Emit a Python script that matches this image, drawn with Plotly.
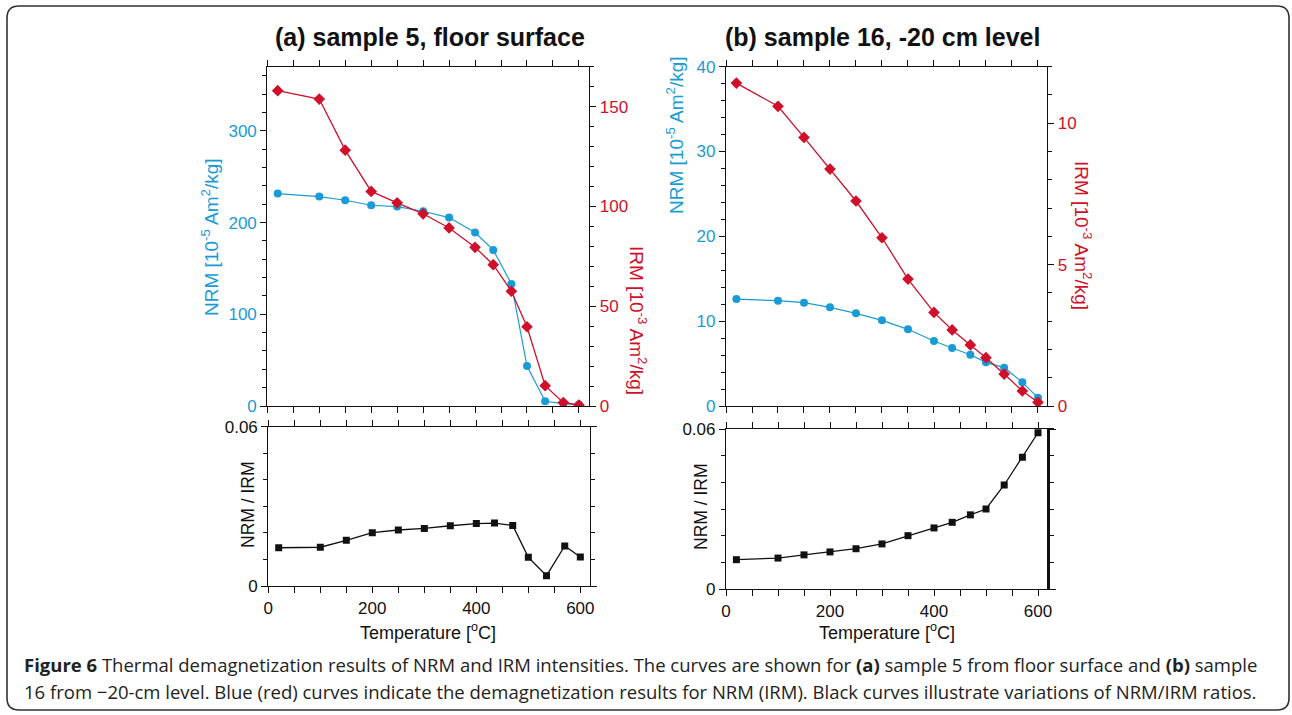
import plotly.graph_objects as go

W, H = 1292, 715

temps = [20, 100, 150, 200, 250, 300, 350, 400, 435, 470, 500, 535, 570, 600]

nrm_a = [231.6, 228.4, 224.4, 218.9, 217.5, 212.4, 205.5, 189.1, 170.2, 133.1, 43.6, 5.1, 2.5, 1.5]
irm_a = [158.0, 153.8, 128.2, 107.5, 101.8, 96.3, 89.2, 79.5, 70.8, 57.5, 39.7, 10.2, 1.7, 0.5]
ratio_a = [0.0144, 0.0146, 0.0172, 0.0201, 0.0211, 0.0217, 0.0227, 0.0235, 0.0237, 0.0228, 0.0108, 0.0039, 0.0151, 0.0109]

nrm_b = [12.61, 12.42, 12.18, 11.63, 10.92, 10.10, 9.04, 7.66, 6.84, 6.05, 5.15, 4.52, 2.79, 0.98]
irm_b = [11.42, 10.60, 9.50, 8.38, 7.25, 5.95, 4.49, 3.31, 2.69, 2.16, 1.71, 1.13, 0.53, 0.13]
ratio_b = [0.0110, 0.0116, 0.0128, 0.0139, 0.0151, 0.0169, 0.0200, 0.0229, 0.0250, 0.0278, 0.0300, 0.0390, 0.0494, 0.0586]

titles = ["(a) sample 5, floor surface", "(b) sample 16, -20 cm level"]
x_ticks = [0, 200, 400, 600]
ratio_ticks = [0, 0.06]

BLUE = "#1a9bd6"
RED = "#d0102a"
BLACK = "#111111"
FONT = "Liberation Sans, Arial, sans-serif"


def px(x):
    return x / W


def py(y):
    return 1 - y / H


fig = go.Figure()

fig.add_trace(go.Scatter(x=temps, y=nrm_a, xaxis="x", yaxis="y", mode="lines+markers",
                         line=dict(color=BLUE, width=1.2),
                         marker=dict(symbol="circle", size=8, color=BLUE)))
fig.add_trace(go.Scatter(x=temps, y=irm_a, xaxis="x", yaxis="y2", mode="lines+markers",
                         line=dict(color=RED, width=1.3),
                         marker=dict(symbol="diamond", size=9, color=RED)))
fig.add_trace(go.Scatter(x=temps, y=ratio_a, xaxis="x2", yaxis="y3", mode="lines+markers",
                         line=dict(color=BLACK, width=1.3),
                         marker=dict(symbol="square", size=7, color=BLACK)))
fig.add_trace(go.Scatter(x=temps, y=nrm_b, xaxis="x3", yaxis="y4", mode="lines+markers",
                         line=dict(color=BLUE, width=1.2),
                         marker=dict(symbol="circle", size=8, color=BLUE)))
fig.add_trace(go.Scatter(x=temps, y=irm_b, xaxis="x3", yaxis="y5", mode="lines+markers",
                         line=dict(color=RED, width=1.3),
                         marker=dict(symbol="diamond", size=9, color=RED)))
fig.add_trace(go.Scatter(x=temps, y=ratio_b, xaxis="x4", yaxis="y6", mode="lines+markers",
                         line=dict(color=BLACK, width=1.3),
                         marker=dict(symbol="square", size=7, color=BLACK)))
# invisible carriers so the right-hand frame axes of the ratio plots are drawn
fig.add_trace(go.Scatter(x=temps, y=ratio_a, xaxis="x2", yaxis="y7", mode="markers",
                         marker=dict(opacity=0), hoverinfo="skip"))
fig.add_trace(go.Scatter(x=temps, y=ratio_b, xaxis="x4", yaxis="y8", mode="markers",
                         marker=dict(opacity=0), hoverinfo="skip"))

tickfont = dict(family=FONT, size=17, color=BLACK)


def xax(domain, rng, labels, anchor):
    return dict(domain=domain, range=rng, anchor=anchor, showgrid=False, zeroline=False,
                automargin=False,
                showline=True, linecolor=BLACK, linewidth=1.2, mirror="allticks",
                ticks="outside", ticklen=6, tickwidth=1.2, tickcolor=BLACK,
                tickvals=x_ticks, showticklabels=labels, tickfont=tickfont,
                minor=dict(dtick=50, tick0=0, ticks="outside", ticklen=4, tickwidth=1, tickcolor=BLACK))


def yax(domain, rng, dtick, mdtick, color, anchor, side="left", overlaying=None, mirror=False,
        tickvals=None, labels=True, linewidth=1.2, position=None):
    d = dict(domain=domain, range=rng, anchor=anchor, side=side, showgrid=False, zeroline=False,
             automargin=False, showticklabels=labels,
             showline=True, linecolor=BLACK, linewidth=linewidth, mirror=mirror,
             ticks="outside", ticklen=6, tickwidth=1.2, tickcolor=BLACK,
             tickfont=dict(family=FONT, size=17, color=color),
             minor=dict(dtick=mdtick, tick0=0, ticks="outside", ticklen=4, tickwidth=1, tickcolor=BLACK))
    if tickvals is not None:
        d["tickvals"] = tickvals
    else:
        d["dtick"] = dtick
        d["tick0"] = 0
    if overlaying:
        d["overlaying"] = overlaying
    if position is not None:
        d["position"] = position
    return d


top_dom = [py(406), py(66.7)]
bot_a = [py(586), py(426.7)]
bot_b = [py(589), py(429)]

fig.update_layout(
    width=W, height=H,
    margin=dict(l=0, r=0, t=0, b=0, autoexpand=False),
    paper_bgcolor="white", plot_bgcolor="white",
    showlegend=False,
    xaxis=xax([px(267.3), px(589.3)], [0, 620], False, "y"),
    yaxis=yax(top_dom, [0, 370], 100, 20, BLUE, "x"),
    yaxis2=yax(top_dom, [0, 170], 50, 10, RED, "x", side="right", overlaying="y"),
    xaxis2=xax([px(268.3), px(594.9)], [0, 628], True, "y3"),
    yaxis3=yax(bot_a, [0, 0.06], None, 0.01, BLACK, "x2", tickvals=ratio_ticks),
    yaxis7=yax(bot_a, [0, 0.06], None, 0.01, BLACK, "free", side="right", overlaying="y3",
               tickvals=ratio_ticks, labels=False, position=px(589.7)),
    xaxis3=xax([px(726), px(1047.3)], [0, 618], False, "y4"),
    yaxis4=yax(top_dom, [0, 40], 10, 2, BLUE, "x3"),
    yaxis5=yax(top_dom, [0, 12], 5, 1, RED, "x3", side="right", overlaying="y4"),
    xaxis4=xax([px(726), px(1053.6)], [0, 630], True, "y6"),
    yaxis6=yax(bot_b, [0, 0.06], None, 0.01, BLACK, "x4", tickvals=ratio_ticks),
    yaxis8=yax(bot_b, [0, 0.06], None, 0.01, BLACK, "free", side="right", overlaying="y6",
               tickvals=ratio_ticks, labels=False, linewidth=2.6, position=px(1047.8)),
)

ann = []


def a(text, x, y, size=17, color=BLACK, angle=0, xanchor="center", fam=FONT):
    ann.append(dict(text=text, x=px(x), y=py(y), xref="paper", yref="paper", showarrow=False,
                    textangle=angle, xanchor=xanchor, yanchor="middle",
                    font=dict(family=fam, size=size, color=color)))


a("<b>" + titles[0] + "</b>", 430, 37, size=25)
a("<b>" + titles[1] + "</b>", 882, 37, size=25)
a("NRM [10<sup>-5</sup> Am<sup>2</sup>/kg]", 210, 237, size=19, color=BLUE, angle=-90)
a("IRM [10<sup>-3</sup> Am<sup>2</sup>/kg]", 638, 320, size=19, color=RED, angle=90)
a("NRM [10<sup>-5</sup> Am<sup>2</sup>/kg]", 675, 135, size=19, color=BLUE, angle=-90)
a("IRM [10<sup>-3</sup> Am<sup>2</sup>/kg]", 1083, 235, size=19, color=RED, angle=90)
a("NRM / IRM", 248, 505, size=17.5, angle=-90)
a("NRM / IRM", 701, 507, size=17.5, angle=-90)
a("Temperature [<sup>o</sup>C]", 428, 631, size=18)
a("Temperature [<sup>o</sup>C]", 887, 631, size=18)

CAP = "Open Sans, Noto Sans, sans-serif"
a("<b>Figure 6</b> Thermal demagnetization results of NRM and IRM intensities. The curves are shown for "
  "<b>(a)</b> sample 5 from floor surface and <b>(b)</b> sample", 22, 664, size=18.5, color="#222222",
  xanchor="left", fam=CAP)
a("16 from \u221220-cm level. Blue (red) curves indicate the demagnetization results for NRM (IRM). "
  "Black curves illustrate variations of NRM/IRM ratios.", 22, 691, size=18.5, color="#222222",
  xanchor="left", fam=CAP)

fig.update_layout(annotations=ann)

x0, x1, yt, yb = px(7), px(1289), py(6), py(710)
rx, ry = 12 / W, 12 / H
path = (f"M {x0+rx},{yt} L {x1-rx},{yt} Q {x1},{yt} {x1},{yt-ry} "
        f"L {x1},{yb+ry} Q {x1},{yb} {x1-rx},{yb} "
        f"L {x0+rx},{yb} Q {x0},{yb} {x0},{yb+ry} "
        f"L {x0},{yt-ry} Q {x0},{yt} {x0+rx},{yt} Z")
fig.add_shape(type="path", xref="paper", yref="paper", path=path,
              line=dict(color="#333333", width=1.6))

fig.write_html("out.html", config={"displayModeBar": False},
               post_script="document.body.style.margin='0';document.body.style.overflow='hidden';")
